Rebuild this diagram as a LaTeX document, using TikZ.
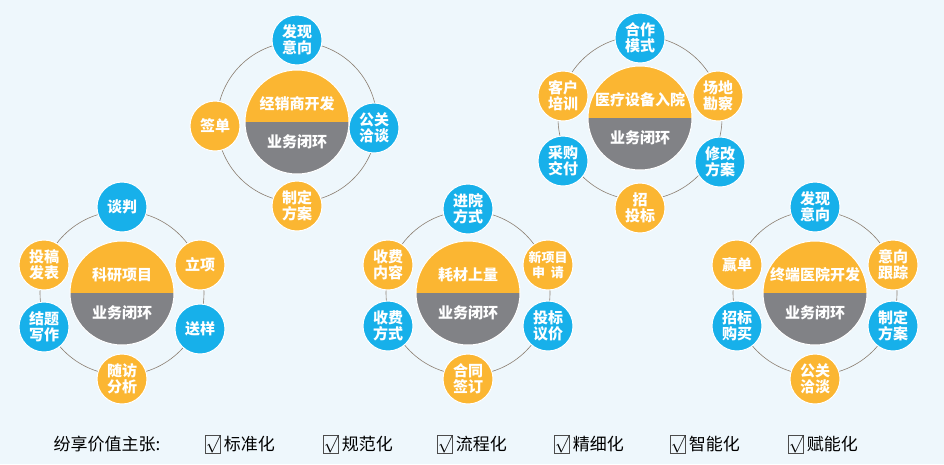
\documentclass[tikz,border=0pt]{standalone}
\usepackage{fontspec}
\setmainfont{Noto Sans CJK SC}
\definecolor{bgblue}{HTML}{EEF7FC}
\definecolor{orng}{HTML}{FBB632}
\definecolor{sky}{HTML}{17B0EA}
\definecolor{hubgray}{HTML}{818286}
\definecolor{ring}{HTML}{8C7F72}
\tikzset{
  bub/.style={circle, minimum size=50pt, inner sep=0pt, draw=white, line width=1pt,
    text=white, font=\bfseries\fontsize{15}{16}\selectfont, align=center},
  bb/.style={bub, fill=sky},
  ob/.style={bub, fill=orng},
  ringline/.style={draw=ring, line width=0.6pt},
  hubtxt/.style={text=white, font=\bfseries\fontsize{15}{16}\selectfont},
  box/.style={draw=black!70, minimum width=15pt, minimum height=18pt, inner sep=0pt, font=\fontsize{16}{16}\selectfont}
}
% hub: name, centre, title
\newcommand{\hubdisc}[3]{%
  \fill[orng] ($(#2)+(-52,0)$) arc (180:360:52) -- cycle;
  \fill[hubgray] ($(#2)+(-52,0)$) arc (180:0:52) -- cycle;
  \draw[white, line width=1pt] (#2) circle (52);
  \node[hubtxt] (#1t) at ($(#2)+(0,-18)$) {#3};
  \node[hubtxt] (#1b) at ($(#2)+(0,20)$) {业务闭环};
}
\usetikzlibrary{calc}
\begin{document}
\begin{tikzpicture}[x=1pt,y=-1pt]
  \fill[bgblue] (0,0) rectangle (944,464);
  \useasboundingbox (0,0) rectangle (944,464);

  % coordinates of the hubs
  \coordinate (dj) at (297,122);
  \coordinate (yl) at (640,118);
  \coordinate (ky) at (122,293);
  \coordinate (hc) at (468,293);
  \coordinate (zd) at (815,293);

  % rings
  \draw[ringline] (dj) circle (80);
  \foreach \c in {yl,ky,hc,zd} \draw[ringline] (\c) circle (82);

  \hubdisc{dj}{dj}{经销商开发}
  \hubdisc{yl}{yl}{医疗设备入院}
  \hubdisc{ky}{ky}{科研项目}
  \hubdisc{hc}{hc}{耗材上量}
  \hubdisc{zd}{zd}{终端医院开发}

  % Distributor development
  \node[bb] (dj1) at ($(dj)+(0,-82)$) {发现\\意向};
  \node[bb] (dj2) at ($(dj)+(77,6)$) {公关\\洽谈};
  \node[ob] (dj3) at ($(dj)+(0,84)$) {制定\\方案};
  \node[ob] (dj4) at ($(dj)+(-82,4)$) {签单};

  % Medical device
  \node[bb] (yl1) at ($(yl)+(0,-80)$) {合作\\模式};
  \node[ob] (yl2) at ($(yl)+(78,-22)$) {场地\\勘察};
  \node[bb] (yl3) at ($(yl)+(80,44)$) {修改\\方案};
  \node[ob] (yl4) at ($(yl)+(0,90)$) {招\\投标};
  \node[bb] (yl5) at ($(yl)+(-77,43)$) {采购\\交付};
  \node[ob] (yl6) at ($(yl)+(-77,-22)$) {客户\\培训};

  % Research
  \node[bb] (ky1) at ($(ky)+(0,-86)$) {谈判};
  \node[ob] (ky2) at ($(ky)+(78,-28)$) {立项};
  \node[bb] (ky3) at ($(ky)+(78,36)$) {送样};
  \node[ob] (ky4) at ($(ky)+(0,86)$) {随访\\分析};
  \node[bb] (ky5) at ($(ky)+(-78,34)$) {结题\\写作};
  \node[ob] (ky6) at ($(ky)+(-78,-28)$) {投稿\\发表};

  % Consumables
  \node[ob, font=\bfseries\fontsize{13}{15}\selectfont] (hc2) at ($(hc)+(80,-28)$) {新项目\\申\ \ 请};
  \node[bb] (hc1) at ($(hc)+(0,-84)$) {进院\\方式};
  \node[bb] (hc3) at ($(hc)+(80,33)$) {投标\\议价};
  \node[ob] (hc4) at ($(hc)+(0,86)$) {合同\\签订};
  \node[bb] (hc5) at ($(hc)+(-80,33)$) {收费\\方式};
  \node[ob] (hc6) at ($(hc)+(-80,-28)$) {收费\\内容};

  % Terminal hospital
  \node[bb] (zd1) at ($(zd)+(0,-86)$) {发现\\意向};
  \node[ob] (zd2) at ($(zd)+(78,-28)$) {意向\\跟踪};
  \node[bb] (zd3) at ($(zd)+(78,33)$) {制定\\方案};
  \node[ob] (zd4) at ($(zd)+(0,86)$) {公关\\洽淡};
  \node[bb] (zd5) at ($(zd)+(-78,33)$) {招标\\购买};
  \node[ob] (zd6) at ($(zd)+(-78,-28)$) {赢单};

  % legend
  \node[anchor=west, font=\fontsize{17}{17}\selectfont] (lg) at (50,444) {纷享价值主张:};
  \foreach \x/\t [count=\i] in {213/标准化,331/规范化,445/流程化,562/精细化,678/智能化,796/赋能化}{
    \node[box] (bx\i) at (\x,444) {$\surd$};
    \node[anchor=west, font=\fontsize{17}{17}\selectfont, inner sep=1pt] (lt\i) at ($(bx\i.east)+(2,0)$) {\t};
  }
\end{tikzpicture}
\end{document}
